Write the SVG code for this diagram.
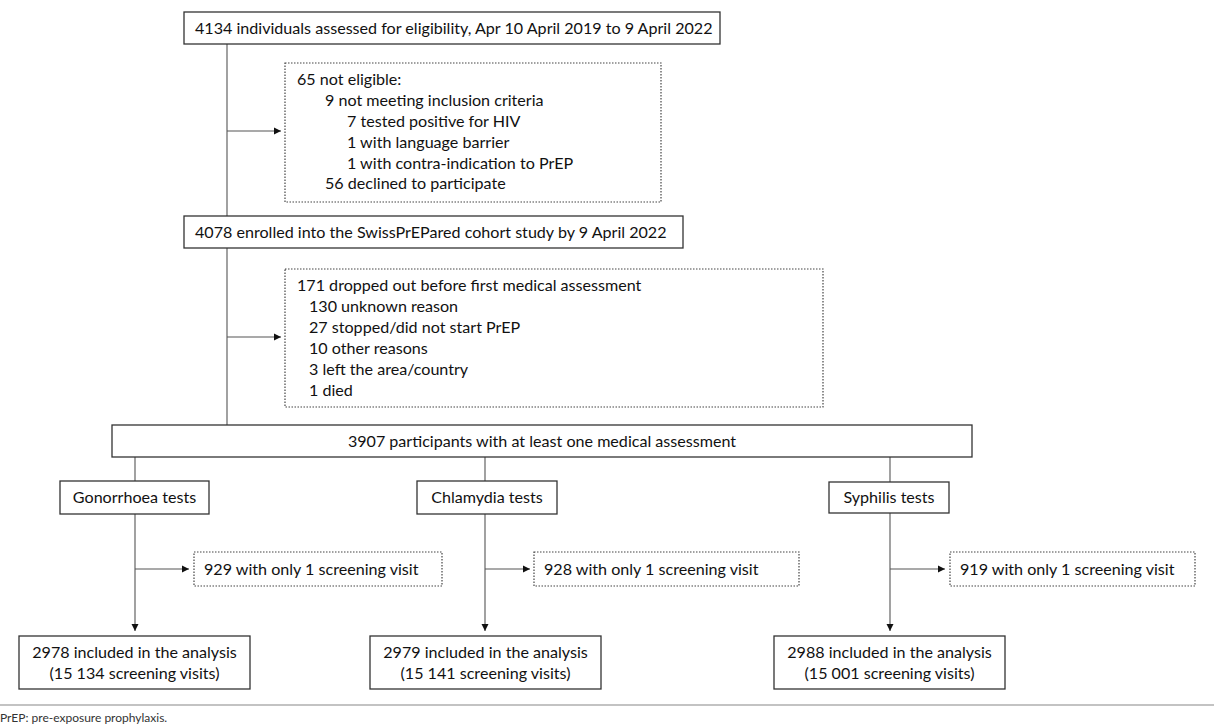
<svg xmlns="http://www.w3.org/2000/svg" width="1214" height="724" viewBox="0 0 1214 724">
<style>
.t{font-family:Lato,"Liberation Sans",sans-serif;font-size:16.1px;fill:#111}
.box{fill:#fff;stroke:#333;stroke-width:1.3}
.dot{fill:#fff;stroke:#444;stroke-width:1.2;stroke-dasharray:1.5 1.5}
.ln{stroke:#555;stroke-width:1.1;fill:none}
</style>
<defs>
<marker id="ah" markerWidth="8" markerHeight="8" refX="7" refY="4" orient="auto" markerUnits="userSpaceOnUse">
<path d="M0,0.5 L7,4 L0,7.5 Z" fill="#111"/>
</marker>
</defs>
<rect width="1214" height="724" fill="#fff"/>
<g id="connectors">
<line class="ln" x1="227" y1="44" x2="227" y2="425"/>
<line class="ln" x1="227" y1="131" x2="281" y2="131" marker-end="url(#ah)"/>
<line class="ln" x1="227" y1="337" x2="281" y2="337" marker-end="url(#ah)"/>
<line class="ln" x1="135" y1="457" x2="135" y2="481"/>
<line class="ln" x1="485" y1="457" x2="485" y2="481"/>
<line class="ln" x1="890" y1="457" x2="890" y2="482"/>
<line class="ln" x1="135" y1="514" x2="135" y2="631" marker-end="url(#ah)"/>
<line class="ln" x1="485" y1="514" x2="485" y2="631" marker-end="url(#ah)"/>
<line class="ln" x1="890" y1="513" x2="890" y2="631" marker-end="url(#ah)"/>
<line class="ln" x1="135" y1="569" x2="189" y2="569" marker-end="url(#ah)"/>
<line class="ln" x1="485" y1="569" x2="530" y2="569" marker-end="url(#ah)"/>
<line class="ln" x1="890" y1="569" x2="945" y2="569" marker-end="url(#ah)"/>
</g>
<g id="n-assessed">
<rect class="box" x="184" y="12" width="536" height="32"/>
<text class="t" x="195" y="34">4134 individuals assessed for eligibility, Apr 10 April 2019 to 9 April 2022</text>
</g>
<g id="n-noteligible">
<rect class="dot" x="285" y="63" width="376" height="139"/>
<text class="t" x="297" y="85">65 not eligible:</text>
<text class="t" x="325" y="106">9 not meeting inclusion criteria</text>
<text class="t" x="347" y="127">7 tested positive for HIV</text>
<text class="t" x="347" y="148">1 with language barrier</text>
<text class="t" x="347" y="169">1 with contra-indication to PrEP</text>
<text class="t" x="325" y="189">56 declined to participate</text>
</g>
<g id="n-enrolled">
<rect class="box" x="184" y="216" width="499" height="32"/>
<text class="t" x="195" y="238">4078 enrolled into the SwissPrEPared cohort study by 9 April 2022</text>
</g>
<g id="n-dropped">
<rect class="dot" x="285" y="269" width="538" height="138"/>
<text class="t" x="297" y="291">171 dropped out before first medical assessment</text>
<text class="t" x="309" y="312">130 unknown reason</text>
<text class="t" x="309" y="333">27 stopped/did not start PrEP</text>
<text class="t" x="309" y="354">10 other reasons</text>
<text class="t" x="309" y="375">3 left the area/country</text>
<text class="t" x="309" y="396">1 died</text>
</g>
<g id="n-participants">
<rect class="box" x="112" y="425" width="860" height="32"/>
<text class="t" x="542" y="447" text-anchor="middle">3907 participants with at least one medical assessment</text>
</g>
<g id="n-gon">
<rect class="box" x="60" y="481" width="149" height="33"/>
<text class="t" x="134.5" y="503" text-anchor="middle">Gonorrhoea tests</text>
</g>
<g id="n-chl">
<rect class="box" x="417" y="481" width="140" height="33"/>
<text class="t" x="487" y="503" text-anchor="middle">Chlamydia tests</text>
</g>
<g id="n-syp">
<rect class="box" x="829" y="482" width="120" height="31"/>
<text class="t" x="889" y="503" text-anchor="middle">Syphilis tests</text>
</g>
<g id="n-gon-ex">
<rect class="dot" x="194" y="552" width="248" height="34"/>
<text class="t" x="204" y="575">929 with only 1 screening visit</text>
</g>
<g id="n-chl-ex">
<rect class="dot" x="534" y="552" width="265" height="34"/>
<text class="t" x="544" y="575">928 with only 1 screening visit</text>
</g>
<g id="n-syp-ex">
<rect class="dot" x="950" y="552" width="245" height="34"/>
<text class="t" x="960" y="575">919 with only 1 screening visit</text>
</g>
<g id="n-gon-in">
<rect class="box" x="19" y="636" width="231" height="53"/>
<text class="t" x="134.5" y="658" text-anchor="middle">2978 included in the analysis</text>
<text class="t" x="134.5" y="679" text-anchor="middle">(15 134 screening visits)</text>
</g>
<g id="n-chl-in">
<rect class="box" x="370" y="636" width="231" height="53"/>
<text class="t" x="485.5" y="658" text-anchor="middle">2979 included in the analysis</text>
<text class="t" x="485.5" y="679" text-anchor="middle">(15 141 screening visits)</text>
</g>
<g id="n-syp-in">
<rect class="box" x="774" y="636" width="231" height="53"/>
<text class="t" x="889.5" y="658" text-anchor="middle">2988 included in the analysis</text>
<text class="t" x="889.5" y="679" text-anchor="middle">(15 001 screening visits)</text>
</g>
<g id="footer">
<line x1="0" y1="705" x2="1214" y2="705" stroke="#888" stroke-width="1.2"/>
<text class="t" x="0" y="722" style="font-size:12px;fill:#333">PrEP: pre-exposure prophylaxis.</text>
</g>
</svg>
